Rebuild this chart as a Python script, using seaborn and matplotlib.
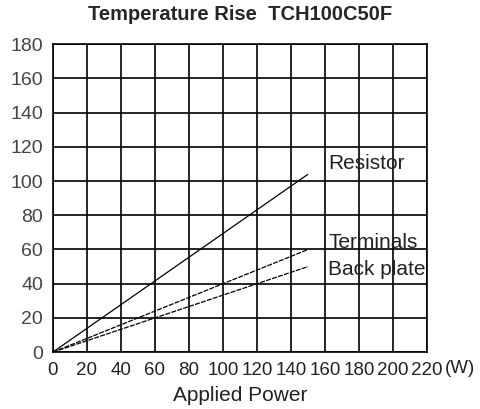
import pandas as pd
import seaborn as sns
import matplotlib.pyplot as plt

# data (W -> temperature rise)
power = [0, 150]
resistor = [0, 104]
terminals = [0, 60]
back_plate = [0, 50]

series_names = ["Resistor", "Terminals", "Back plate"]
label_y = [110, 64, 48.5]
x_ticks = [0, 20, 40, 60, 80, 100, 120, 140, 160, 180, 200, 220]
y_ticks = [0, 20, 40, 60, 80, 100, 120, 140, 160, 180]


def main():
    sns.set_theme(style="white")
    plt.rcParams["font.family"] = ["Liberation Sans", "DejaVu Sans"]

    df = pd.DataFrame({
        "power": power * 3,
        "rise": resistor + terminals + back_plate,
        "part": [n for n in series_names for _ in power],
    })

    fig = plt.figure(figsize=(4.8, 4.09), dpi=100)
    ax = fig.add_axes([0.110, 0.139, 0.780, 0.753])

    sns.lineplot(data=df, x="power", y="rise", hue="part", style="part",
                 palette=["black"] * 3, dashes=[(1, 0), (4, 1), (4, 1)],
                 linewidth=0.9, legend=False, ax=ax)

    for name, y in zip(series_names, label_y):
        ax.text(162, y, name, fontsize=15, color="#222222", va="center")

    ax.set_xlim(0, 220)
    ax.set_ylim(0, 180)
    ax.set_xticks(x_ticks)
    ax.set_yticks(y_ticks)
    ax.set_xticklabels([str(t) for t in x_ticks], fontsize=13.5, color="#222222")
    ax.set_yticklabels([str(t) for t in y_ticks], fontsize=14, color="#444444")
    ax.tick_params(axis="x", length=0, pad=7)
    ax.tick_params(axis="y", length=0, pad=7)
    ax.grid(True, color="black", linewidth=1.2)
    for s in ax.spines.values():
        s.set_color("black")
        s.set_linewidth(1.2)
    ax.set_xlabel("Applied Power", fontsize=15, color="#222222", labelpad=5)
    ax.set_ylabel("")
    ax.text(1.046, -0.054, "(W)", fontsize=13.5, color="#222222", va="center",
            transform=ax.transAxes)
    fig.suptitle("Temperature Rise  TCH100C50F", fontsize=14.5, fontweight="bold",
                 y=0.988)

    fig.savefig("out.png", dpi=100)


if __name__ == "__main__":
    main()
